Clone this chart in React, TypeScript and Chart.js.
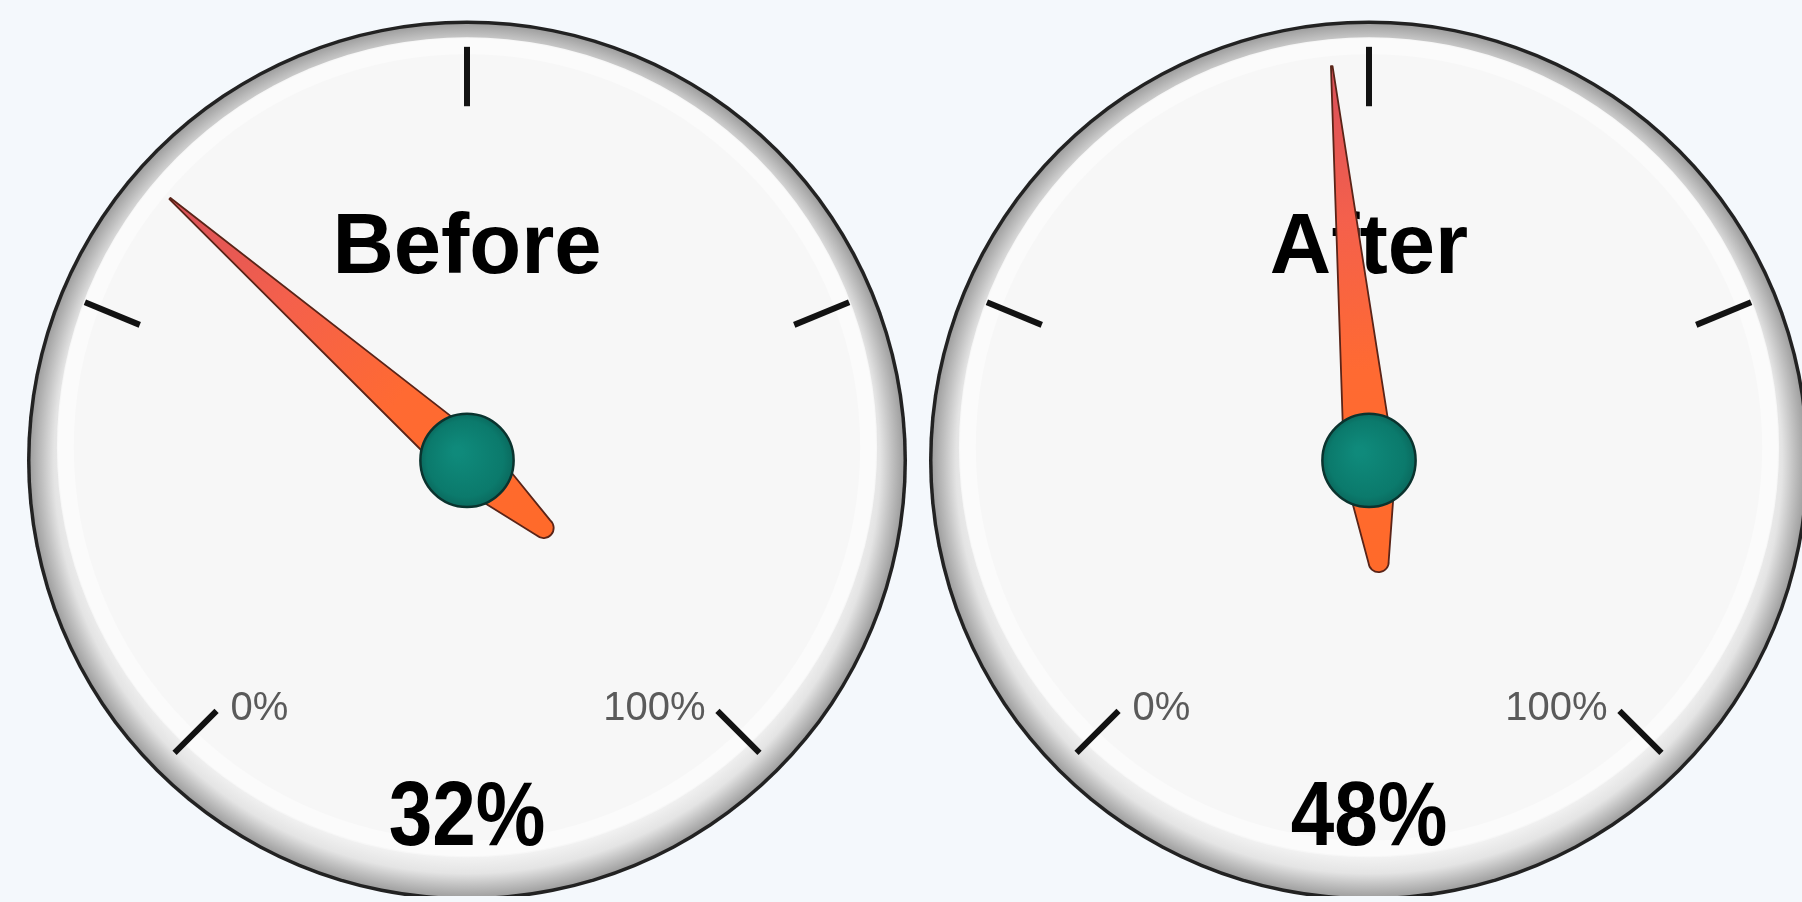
import React, { useEffect, useRef } from 'react';
import { Chart, registerables } from 'chart.js';

Chart.register(...registerables);

// ---- data ----
const gaugeTitles = ['Before', 'After'];
const gaugeValues = [32, 48];
const gaugeMax = 100;
const tickValues = [0, 25, 50, 75, 100];
const tickLabels = ['0%', '', '', '', '100%'];

const BG = '#F4F8FC';
const FONT = '"Liberation Sans", Arial, Helvetica, sans-serif';

const gaugePlugin = {
  id: 'gaugeDial',
  beforeDatasetsDraw(chart: any) {
    const arc = chart.getDatasetMeta(0).data[0];
    const cx = arc.x, cy = arc.y, R = arc.outerRadius;
    const ctx = chart.ctx;
    ctx.save();
    // dark outer rim
    ctx.beginPath();
    ctx.arc(cx, cy, R, 0, Math.PI * 2);
    ctx.fillStyle = '#222222';
    ctx.fill();
    // metallic bezel
    const g = ctx.createRadialGradient(cx, cy, R - 46, cx, cy, R - 3.5);
    g.addColorStop(0, '#F4F4F4');
    g.addColorStop(0.45, '#E4E4E4');
    g.addColorStop(0.72, '#C2C2C2');
    g.addColorStop(1, '#A0A0A0');
    ctx.beginPath();
    ctx.arc(cx, cy, R - 3.5, 0, Math.PI * 2);
    ctx.fillStyle = g;
    ctx.fill();
    // face
    const fy = cy - R * 0.03;
    const fr = R * 0.932;
    ctx.beginPath();
    ctx.arc(cx, fy, fr, 0, Math.PI * 2);
    ctx.fillStyle = '#F7F7F7';
    ctx.fill();
    // soft highlight ring inside bezel
    ctx.beginPath();
    ctx.arc(cx, fy, fr - 9, 0, Math.PI * 2);
    ctx.strokeStyle = 'rgba(255,255,255,0.45)';
    ctx.lineWidth = 16;
    ctx.stroke();
    ctx.restore();
  },
  afterDatasetsDraw(chart: any, _args: any, opts: any) {
    const tickArcs = chart.getDatasetMeta(0).data;
    const valArcs = chart.getDatasetMeta(1).data;
    const first = tickArcs[0];
    const cx = first.x, cy = first.y, R = first.outerRadius;
    const ctx = chart.ctx;
    ctx.save();

    // tick angles from library arcs
    const angles: number[] = tickArcs.map((a: any) => a.startAngle);
    angles.push(tickArcs[tickArcs.length - 1].endAngle);

    const rIn = R * 0.805;
    const rOut = R * 0.94;
    ctx.strokeStyle = '#121212';
    ctx.lineWidth = 6;
    ctx.lineCap = 'butt';
    angles.forEach((a) => {
      ctx.beginPath();
      ctx.moveTo(cx + Math.cos(a) * rIn, cy + Math.sin(a) * rIn);
      ctx.lineTo(cx + Math.cos(a) * rOut, cy + Math.sin(a) * rOut);
      ctx.stroke();
    });

    // tick labels
    ctx.font = `40px ${FONT}`;
    ctx.fillStyle = '#5A5A5A';
    ctx.textBaseline = 'alphabetic';
    angles.forEach((a, i) => {
      const lbl = tickLabels[i];
      if (!lbl) return;
      const px = cx + Math.cos(a) * rIn;
      const py = cy + Math.sin(a) * rIn;
      if (Math.cos(a) < 0) {
        ctx.textAlign = 'left';
        ctx.fillText(lbl, px + 14, py + 9);
      } else {
        ctx.textAlign = 'right';
        ctx.fillText(lbl, px - 12, py + 9);
      }
    });

    // title
    ctx.fillStyle = '#000';
    ctx.textAlign = 'center';
    ctx.font = `bold 85px ${FONT}`;
    ctx.fillText(opts.title, cx, cy - R * 0.425);

    // value text
    ctx.save();
    ctx.translate(cx, cy + R * 0.875);
    ctx.scale(0.86, 1);
    ctx.font = `bold 91px ${FONT}`;
    ctx.fillText(opts.valueText, 0, 0);
    ctx.restore();

    // needle
    const a = valArcs[0].endAngle;
    const dx = Math.cos(a), dy = Math.sin(a);
    const nx = -dy, ny = dx;
    const L = R * 0.9;
    const w = R * 0.057;
    const T = R * 0.255;
    const wt = R * 0.052;
    const rc = R * 0.023;
    const tipX = cx + dx * L, tipY = cy + dy * L;
    const tcX = cx - dx * (T - rc), tcY = cy - dy * (T - rc);
    ctx.beginPath();
    ctx.moveTo(tipX + nx * 0.8, tipY + ny * 0.8);
    ctx.lineTo(cx + nx * w, cy + ny * w);
    ctx.lineTo(cx - dx * 40 + nx * wt * 0.9, cy - dy * 40 + ny * wt * 0.9);
    ctx.lineTo(tcX + nx * rc, tcY + ny * rc);
    ctx.arc(tcX, tcY, rc, a + Math.PI / 2, a + Math.PI * 1.5);
    ctx.lineTo(cx - dx * 40 - nx * wt * 0.9, cy - dy * 40 - ny * wt * 0.9);
    ctx.lineTo(cx - nx * w, cy - ny * w);
    ctx.lineTo(tipX - nx * 0.8, tipY - ny * 0.8);
    ctx.closePath();
    const ng = ctx.createLinearGradient(tipX, tipY, cx - dx * T, cy - dy * T);
    ng.addColorStop(0, '#D9505A');
    ng.addColorStop(0.3, '#F4604C');
    ng.addColorStop(0.6, '#FF6A32');
    ng.addColorStop(1, '#FF6A2A');
    ctx.fillStyle = ng;
    ctx.fill();
    ctx.strokeStyle = '#5A2418';
    ctx.lineWidth = 1.8;
    ctx.lineJoin = 'round';
    ctx.stroke();

    // hub
    const hr = R * 0.106;
    const hg = ctx.createRadialGradient(cx - hr * 0.2, cy - hr * 0.2, hr * 0.1, cx, cy, hr);
    hg.addColorStop(0, '#0F8A7B');
    hg.addColorStop(0.8, '#0B7A6C');
    hg.addColorStop(1, '#0A6A5E');
    ctx.beginPath();
    ctx.arc(cx, cy, hr, 0, Math.PI * 2);
    ctx.fillStyle = hg;
    ctx.fill();
    ctx.strokeStyle = '#0A332E';
    ctx.lineWidth = 2.5;
    ctx.stroke();

    ctx.restore();
  },
};

function Gauge({ index, left, top }: { index: number; left: number; top: number }) {
  const ref = useRef<HTMLCanvasElement | null>(null);
  useEffect(() => {
    if (!ref.current) return;
    const value = gaugeValues[index];
    const tickSegments = tickValues.slice(1).map((v, i) => v - tickValues[i]);
    const chart = new Chart(ref.current, {
      type: 'doughnut',
      data: {
        labels: tickSegments.map((_, i) => `t${i}`),
        datasets: [
          {
            data: tickSegments,
            backgroundColor: 'rgba(0,0,0,0)',
            borderWidth: 0,
          },
          {
            data: [value, gaugeMax - value],
            backgroundColor: 'rgba(0,0,0,0)',
            borderWidth: 0,
          },
        ],
      },
      options: {
        responsive: false,
        animation: false,
        events: [],
        rotation: -135,
        circumference: 270,
        radius: 440,
        cutout: '50%',
        layout: { padding: 0 },
        plugins: {
          legend: { display: false },
          tooltip: { enabled: false },
          gaugeDial: { title: gaugeTitles[index], valueText: `${value}%` },
        } as any,
      },
      plugins: [gaugePlugin],
    });
    return () => chart.destroy();
  }, [index]);
  return (
    <div style={{ position: 'absolute', left, top, width: 900, height: 1000 }}>
      <canvas ref={ref} width={900} height={1000} style={{ width: 900, height: 1000, display: 'block' }} />
    </div>
  );
}

export default function App() {
  return (
    <div
      style={{
        position: 'fixed',
        left: 0,
        top: 0,
        width: 1802,
        height: 902,
        overflow: 'hidden',
        background: BG,
      }}
    >
      <Gauge index={0} left={17} top={-104} />
      <Gauge index={1} left={919} top={-104} />
    </div>
  );
}
